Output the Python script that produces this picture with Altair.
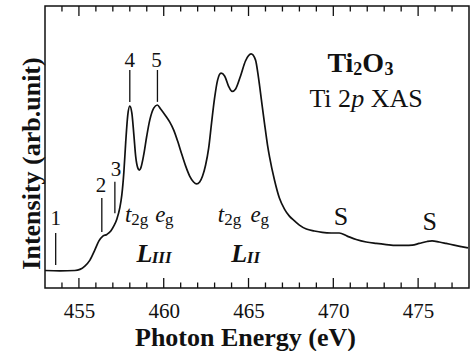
import altair as alt
import pandas as pd

# ---- spectrum (photon energy in eV, intensity in arb. units) ----
energy = [453.00, 453.88, 454.76, 455.06, 455.35, 455.65, 455.94, 456.18, 456.41, 456.65,
          456.88, 457.06, 457.24, 457.41, 457.53, 457.65, 457.76, 457.88, 458.00, 458.12,
          458.24, 458.35, 458.47, 458.56, 458.65, 458.82, 459.00, 459.18, 459.41, 459.62,
          459.82, 460.12, 460.35, 460.59, 460.82, 461.06, 461.29, 461.53, 461.76, 461.94,
          462.12, 462.29, 462.47, 462.65, 462.82, 463.00, 463.18, 463.38, 463.59, 463.82,
          464.03, 464.24, 464.53, 464.82, 465.15, 465.41, 465.59, 465.76, 465.94, 466.12,
          466.24, 466.53, 466.82, 467.12, 467.41, 467.71, 468.00, 468.41, 468.88, 469.35,
          469.88, 470.35, 470.82, 471.35, 471.94, 472.53, 473.12, 473.71, 474.24, 474.65,
          475.06, 475.53, 475.82, 476.24, 476.65, 477.12, 477.53, 477.94]
intensity = [6.2, 6.1, 6.2, 6.6, 7.8, 9.9, 13.5, 16.7, 18.4, 19.0,
             20.2, 22.0, 24.5, 28.4, 33.0, 41.1, 51.8, 61.3, 64.5, 62.1,
             54.3, 46.5, 42.6, 41.8, 42.6, 47.2, 53.9, 59.6, 63.8, 64.9,
             63.5, 61.0, 58.9, 56.0, 52.1, 47.5, 43.3, 39.7, 37.6, 36.9,
             37.6, 39.7, 43.6, 49.6, 58.5, 67.4, 73.8, 76.2, 75.2, 71.6,
             69.7, 70.6, 75.2, 80.5, 83.0, 80.9, 74.5, 66.7, 58.5, 50.7,
             46.5, 38.3, 31.9, 28.0, 25.5, 23.8, 22.3, 20.9, 20.2, 19.7,
             19.5, 19.5, 18.4, 17.2, 16.3, 15.8, 15.4, 15.1, 15.1, 15.2,
             15.8, 16.5, 16.7, 16.3, 15.8, 15.2, 14.7, 14.2]

# ---- numbered peak markers ----
peak_labels = ["1", "2", "3", "4", "5"]
peak_x = [453.63, 456.35, 457.12, 458.00, 459.63]
peak_line_lo = [8.2, 19.9, 26.5, 66.0, 66.0]
peak_line_hi = [19.5, 31.9, 37.7, 77.3, 77.3]
peak_text_x = [453.63, 456.30, 457.18, 458.00, 459.58]
peak_text_y = [22.3, 33.9, 39.8, 78.5, 78.5]

# ---- axis ticks ----
major_ticks = [455, 460, 465, 470, 475]
minor_ticks = [454, 456, 457, 458, 459, 461, 462, 463, 464, 466, 467, 468, 469,
               471, 472, 473, 474, 476, 477]

# ---- annotations: (text, x eV, y intensity) per text style ----
ann_S = (["S", "S"], [470.45, 475.68], [22.3, 20.6])
ann_t_e = (["t", "e", "t", "e"], [457.71, 459.50, 463.19, 465.12], [23.5, 23.5, 23.5, 23.5])
ann_t_e_sub = (["2g", "g", "2g", "g"], [458.08, 460.08, 463.57, 465.70], [22.4, 22.4, 22.4, 22.4])
ann_L = (["L", "L"], [458.39, 463.98], [9.3, 9.3])
ann_L_sub = (["III", "II"], [459.29, 464.90], [8.9, 8.9])
ann_formula = (["Ti", "O"], [469.65, 471.71], [76.7, 76.7])
ann_formula_sub = (["2", "3"], [471.18, 473.02], [75.6, 75.6])
ann_xas = (["Ti 2", "XAS"], [468.59, 472.20], [64.3, 64.3])
ann_xas_p = (["p"], [471.06], [64.3])

X_DOM = [453, 478]
Y_DOM = [0, 100]
SERIF = "Liberation Serif, Times New Roman, serif"
INK = "#111111"

xs = alt.Scale(domain=X_DOM, nice=False, zero=False)
ys = alt.Scale(domain=Y_DOM, nice=False, zero=False)

spec_df = pd.DataFrame({"E": energy, "I": intensity})

line = alt.Chart(spec_df).mark_line(
    color=INK, strokeWidth=1.7, interpolate="monotone"
).encode(
    x=alt.X("E:Q", scale=xs,
            axis=alt.Axis(values=major_ticks, title="Photon Energy (eV)", grid=False,
                          ticks=False, tickSize=0, domain=False,
                          labelFont=SERIF, labelFontSize=21, labelColor=INK,
                          labelBaseline="alphabetic", labelPadding=29,
                          titleFont=SERIF, titleFontSize=26, titleFontWeight="bold",
                          titleColor=INK, titleX=200, titleY=57,
                          titleBaseline="alphabetic", titleAlign="center")),
    y=alt.Y("I:Q", scale=ys,
            axis=alt.Axis(labels=False, ticks=False, tickSize=0, domain=False, grid=False,
                          title="Intensity (arb.unit)",
                          titleFont=SERIF, titleFontSize=26, titleFontWeight="bold",
                          titleColor=INK, titleX=-6, titleY=157, titleAngle=270,
                          titleBaseline="alphabetic", titleAlign="center")),
)

# tick marks pointing inward on bottom and top
ticks_layers = []
for length, vals in ((10, major_ticks), (5.5, minor_ticks)):
    d = pd.DataFrame({"t": vals})
    ticks_layers.append(alt.Chart(d).mark_rule(color=INK, strokeWidth=1.3).encode(
        x=alt.X("t:Q", scale=xs), y=alt.value(282), y2=alt.value(282 - length)))
    ticks_layers.append(alt.Chart(d).mark_rule(color=INK, strokeWidth=1.3).encode(
        x=alt.X("t:Q", scale=xs), y=alt.value(0), y2=alt.value(length)))

peak_df = pd.DataFrame({"x": peak_x, "lo": peak_line_lo, "hi": peak_line_hi,
                        "tx": peak_text_x, "ty": peak_text_y, "lab": peak_labels})
peak_rules = alt.Chart(peak_df).mark_rule(color=INK, strokeWidth=1.3).encode(
    x=alt.X("x:Q", scale=xs), y=alt.Y("lo:Q", scale=ys), y2="hi:Q")
peak_text = alt.Chart(peak_df).mark_text(
    font=SERIF, fontSize=21, color=INK, align="center", baseline="alphabetic"
).encode(x=alt.X("tx:Q", scale=xs), y=alt.Y("ty:Q", scale=ys), text="lab:N")


def text_layer(ann, size, weight="normal", style="normal", align="left"):
    labs, xv, yv = ann
    d = pd.DataFrame({"lab": labs, "x": xv, "y": yv})
    return alt.Chart(d).mark_text(
        font=SERIF, fontSize=size, fontWeight=weight, fontStyle=style,
        color=INK, align=align, baseline="alphabetic"
    ).encode(x=alt.X("x:Q", scale=xs), y=alt.Y("y:Q", scale=ys), text="lab:N")


texts = [
    text_layer(ann_S, 26, align="center"),
    text_layer(ann_t_e, 23, style="italic"),
    text_layer(ann_t_e_sub, 17),
    text_layer(ann_L, 26, weight="bold", style="italic"),
    text_layer(ann_L_sub, 17, weight="bold", style="italic"),
    text_layer(ann_formula, 28, weight="bold"),
    text_layer(ann_formula_sub, 18, weight="bold"),
    text_layer(ann_xas, 26),
    text_layer(ann_xas_p, 26, style="italic"),
]

chart = alt.layer(line, *ticks_layers, peak_rules, peak_text, *texts).properties(
    width=424, height=282,
    autosize=alt.AutoSizeParams(type="none"),
    padding={"left": 45, "top": 6, "right": 4, "bottom": 63},
    background="white",
).configure_view(stroke=INK, strokeWidth=1.5)

chart.save("out.html", embed_options={"renderer": "svg", "actions": False})
